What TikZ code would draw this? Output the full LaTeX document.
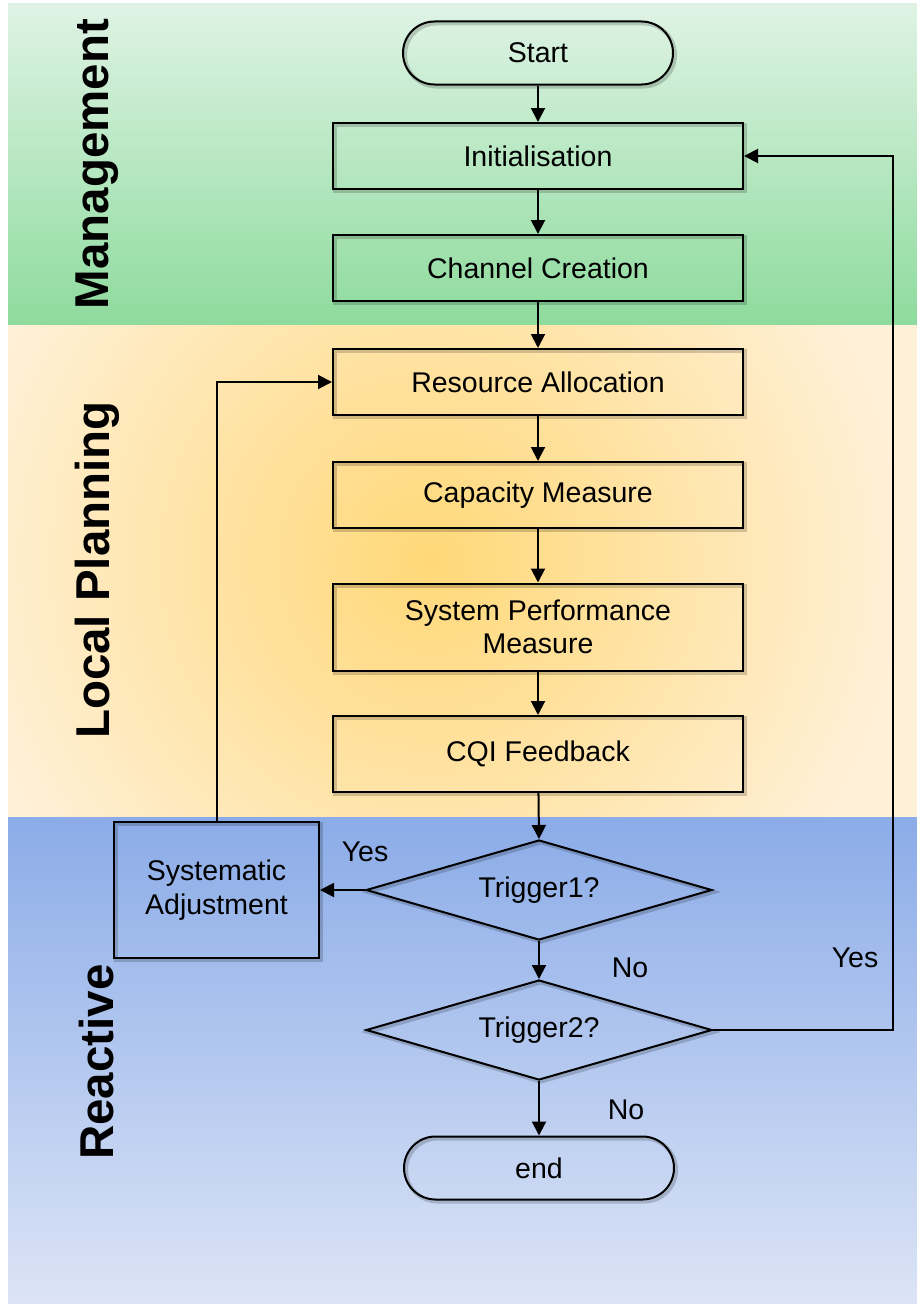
\documentclass[tikz,border=0pt]{standalone}
\usepackage{fontspec}
\setmainfont{Liberation Sans}
\usetikzlibrary{arrows.meta,shapes.misc,shapes.geometric}
\definecolor{gtop}{HTML}{DFF3E5}
\definecolor{gbot}{HTML}{8EDB9D}
\definecolor{ocen}{HTML}{FFD878}
\definecolor{oout}{HTML}{FFF0D8}
\definecolor{btop}{HTML}{8BACE8}
\definecolor{bbot}{HTML}{DCE4F6}
\tikzset{
  shad/.style={preaction={draw=black,opacity=0.18,line width=4pt,transform canvas={xshift=2pt,yshift=-2pt}}},
  txt/.style={font=\fontsize{28.5}{33.5}\selectfont, align=center},
  stepbox/.style={txt, draw, line width=2pt, minimum width=410pt, minimum height=66pt, inner sep=0pt, shad},
  term/.style={txt, draw, line width=2pt, rounded rectangle, minimum width=270pt, minimum height=63pt, inner sep=0pt, shad},
  decide/.style={txt, draw, line width=2pt, diamond, shape aspect=3.46, minimum width=346pt, minimum height=100pt, inner sep=0pt, shad},
  arr/.style={line width=2pt, -{Triangle[length=14pt,width=14pt]}},
  lane/.style={rotate=90, font=\fontsize{47.5}{50}\selectfont\bfseries},
  lbl/.style={txt}
}
\begin{document}
\begin{tikzpicture}[x=1pt,y=-1pt]
\useasboundingbox (0,0) rectangle (917,1306);
% lanes
\shade[top color=gtop, bottom color=gbot] (8,4) rectangle (917,325);
\begin{scope}
\clip (8,325) rectangle (917,817);
\fill[oout] (8,325) rectangle (917,817);
\shade[inner color=ocen, outer color=oout] (430,560) circle (480);
\end{scope}
\shade[top color=btop, bottom color=bbot] (8,817) rectangle (917,1303);
\node[lane] (lm) at (97,164) {Management};
\node[lane] (ll) at (97,570) {Local Planning};
\node[lane] (lr) at (97,1062) {Reactive};
% nodes
\node[term] (start) at (538,53) {Start};
\node[stepbox] (init) at (538,156) {Initialisation};
\node[stepbox] (cc) at (538,268) {Channel Creation};
\node[stepbox] (ra) at (538,382) {Resource Allocation};
\node[stepbox] (cm) at (538,495) {Capacity Measure};
\node[stepbox, minimum height=87pt] (spm) at (538,627) {System Performance\\Measure};
\node[stepbox, minimum height=76pt] (cqi) at (538,754) {CQI Feedback};
\node[decide] (t1) at (539,890) {Trigger1?};
\node[decide] (t2) at (539,1030) {Trigger2?};
\node[term] (end) at (539,1168) {end};
\node[stepbox, minimum width=205pt, minimum height=136pt] (sa) at (216.5,890) {Systematic\\Adjustment};
\coordinate (rt) at (893,156);
% connectors
\draw[arr] (start) -- (init);
\draw[arr] (init) -- (cc);
\draw[arr] (cc) -- (ra);
\draw[arr] (ra) -- (cm);
\draw[arr] (cm) -- (spm);
\draw[arr] (spm) -- (cqi);
\draw[arr] (cqi) -- (t1.north);
\draw[arr] (t1.south) -- (t2.north);
\draw[arr] (t2.south) -- (end);
\draw[arr] (t1.west) -- (sa.east);
\draw[arr] (sa.north) |- (ra.west);
\draw[arr] (t2.east) -| (rt) -- (init.east);
% labels
\node[lbl] (y1) at (365,852) {Yes};
\node[lbl] (n1) at (630,968) {No};
\node[lbl] (y2) at (855,958) {Yes};
\node[lbl] (n2) at (626,1110) {No};
\end{tikzpicture}
\end{document}
